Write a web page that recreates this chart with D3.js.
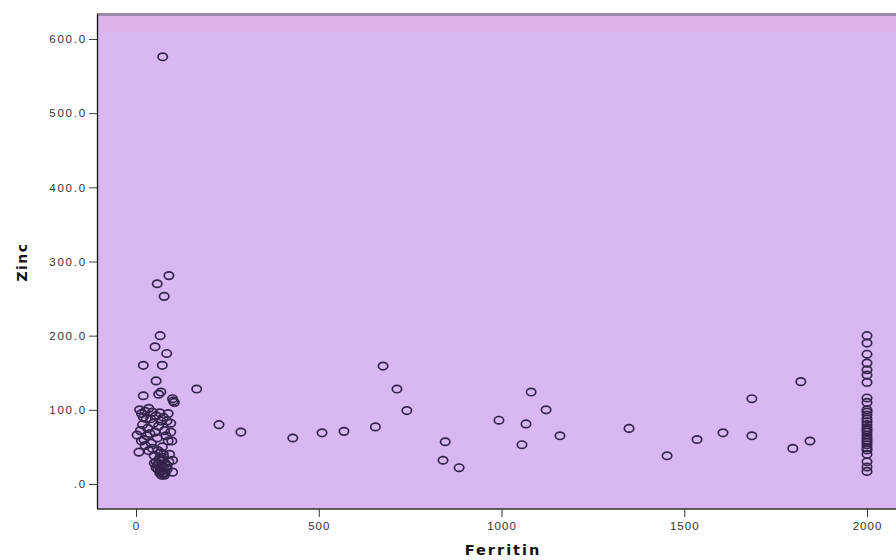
<!DOCTYPE html>
<html>
<head>
<meta charset="utf-8">
<script src="https://cdn.jsdelivr.net/npm/d3@7"></script>
<style>
  body { margin: 0; background: #fff; }
  svg { display: block; }
</style>
</head>
<body>
<script>
// ferritin / zinc pairs
const ferritin = [
  73, 90, 58, 77, 66, 52, 84, 20, 72, 55, 166, 20, 62, 68, 100, 102, 227, 287, 429,
  10, 15, 25, 35, 45, 55, 65, 75, 85, 95, 3, 8, 12, 18, 22, 28, 32, 38, 42, 48,
  52, 58, 62, 68, 72, 78, 82, 88, 92, 98, 100, 100, 45, 50, 55, 60, 65, 70, 75, 80,
  85, 90, 60, 65, 70, 75, 80, 85, 55, 50, 72, 78, 62, 68, 30, 40, 20, 15, 25, 35,
  95, 88, 105, 66, 74, 82, 58, 64, 70, 76,
  509, 569, 655, 676, 714, 741, 846, 840, 884, 993, 1081, 1122, 1067, 1056, 1160,
  1349, 1453, 1535, 1606, 1685, 1685, 1797, 1844, 1819,
  2000, 2000, 2000, 2000, 2000, 2000, 2000, 2000, 2000, 2000, 2000, 2000, 2000, 2000, 2000,
  2000, 2000, 2000, 2000, 2000, 2000, 2000, 2000, 2000, 2000, 2000, 2000, 2000, 2000
];
const zinc = [
  576, 281, 270, 253, 200, 185, 176, 160, 160, 139, 128, 119, 121, 124, 115, 112, 80, 70, 62,
  100, 95, 98, 102, 97, 92, 96, 90, 85, 82, 66, 43, 72, 80, 60, 88, 75, 68, 55, 82,
  70, 62, 78, 85, 50, 72, 65, 58, 40, 58, 32, 16, 48, 38, 30, 45, 35, 25, 40, 28,
  20, 30, 20, 15, 18, 22, 15, 25, 22, 28, 32, 12, 27, 42, 65, 88, 90, 58, 52, 45,
  70, 95, 110, 18, 14, 22, 26, 33, 12, 36,
  69, 71, 77, 159, 128, 99, 57, 32, 22, 86, 124, 100, 81, 53, 65,
  75, 38, 60, 69, 115, 65, 48, 58, 138,
  200, 190, 175, 163, 154, 147, 137, 116, 110, 100, 97, 93, 88, 84, 80,
  76, 73, 70, 66, 62, 59, 56, 53, 49, 46, 40, 30, 23, 17
];
const xTicks = [0, 500, 1000, 1500, 2000];
const yTicks = [0, 100, 200, 300, 400, 500, 600];

const W = 896, H = 560;
const plot = { left: 97, right: 896, top: 14, bottom: 509 };

const x = d3.scaleLinear().domain([0, 2000]).range([136, 867]);
const y = d3.scaleLinear().domain([0, 600]).range([484, 39]);

const svg = d3.select("body").append("svg")
    .attr("width", W)
    .attr("height", H)
    .style("font-family", "'DejaVu Sans', sans-serif");

// plot background
svg.append("rect")
    .attr("x", plot.left).attr("y", plot.top)
    .attr("width", plot.right - plot.left).attr("height", plot.bottom - plot.top)
    .attr("fill", "#d9b7f3");
svg.append("rect")
    .attr("x", plot.left).attr("y", plot.top + 2)
    .attr("width", plot.right - plot.left).attr("height", 16)
    .attr("fill", "#ddb3ec");
svg.append("line")
    .attr("x1", plot.left).attr("x2", plot.right)
    .attr("y1", plot.top + 0.5).attr("y2", plot.top + 0.5)
    .attr("stroke", "#9a8aa6").attr("stroke-width", 3);

// points
svg.append("g")
    .attr("fill", "none")
    .attr("stroke", "#34244c")
    .attr("stroke-width", 1.7)
  .selectAll("ellipse")
  .data(d3.range(ferritin.length))
  .join("ellipse")
    .attr("cx", i => x(ferritin[i]))
    .attr("cy", i => y(zinc[i]))
    .attr("rx", 4.7)
    .attr("ry", 3.7);

// axes
const yAxis = svg.append("g")
    .attr("transform", `translate(${plot.left},0)`)
    .call(d3.axisLeft(y).tickValues(yTicks).tickSize(8).tickPadding(2)
      .tickFormat(d => d === 0 ? ".0" : d3.format(".1f")(d)));
yAxis.select(".domain").remove();
yAxis.selectAll("text").attr("font-size", 11.5).attr("letter-spacing", 1.8).attr("fill", "#333");
yAxis.selectAll("line").attr("stroke", "#444");

const xAxis = svg.append("g")
    .attr("transform", `translate(0,${plot.bottom})`)
    .call(d3.axisBottom(x).tickValues(xTicks).tickSize(8).tickPadding(5)
      .tickFormat(d3.format("d")));
xAxis.select(".domain").remove();
xAxis.selectAll("text").attr("font-size", 11.5).attr("letter-spacing", 1).attr("fill", "#333");
xAxis.selectAll("line").attr("stroke", "#333");

svg.append("line")
    .attr("x1", plot.left + 0.5).attr("x2", plot.left + 0.5)
    .attr("y1", plot.top).attr("y2", plot.bottom)
    .attr("stroke", "#111").attr("stroke-width", 1.3);
svg.append("line")
    .attr("x1", plot.left).attr("x2", plot.right)
    .attr("y1", plot.bottom).attr("y2", plot.bottom)
    .attr("stroke", "#333").attr("stroke-width", 1.3);

// axis titles
svg.append("text")
    .attr("x", 503).attr("y", 555)
    .attr("text-anchor", "middle")
    .attr("font-size", 14.5).attr("font-weight", "bold")
    .attr("letter-spacing", 2)
    .attr("fill", "#111")
    .text("Ferritin");
svg.append("text")
    .attr("transform", "translate(27,262) rotate(-90)")
    .attr("text-anchor", "middle")
    .attr("font-size", 14).attr("font-weight", "bold")
    .attr("letter-spacing", 1.5)
    .attr("fill", "#111")
    .text("Zinc");
</script>
</body>
</html>
